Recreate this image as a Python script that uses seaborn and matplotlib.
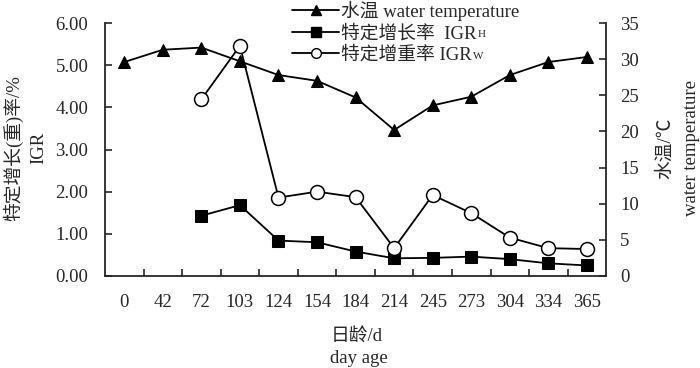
import numpy as np
import pandas as pd
import matplotlib
matplotlib.use("Agg")
import matplotlib.pyplot as plt
from matplotlib.lines import Line2D
import seaborn as sns

days = ["0", "42", "72", "103", "124", "154", "184", "214", "245", "273", "304", "334", "365"]
water_temp = [29.6, 31.3, 31.6, 29.7, 27.8, 27.0, 24.7, 20.2, 23.6, 24.8, 27.8, 29.6, 30.3]
igr_h = [None, None, 1.43, 1.68, 0.84, 0.80, 0.58, 0.42, 0.43, 0.46, 0.40, 0.30, 0.25]
igr_w = [None, None, 4.19, 5.46, 1.86, 2.00, 1.87, 0.66, 1.92, 1.49, 0.91, 0.66, 0.64]
left_ticks = [0, 1, 2, 3, 4, 5, 6]
right_ticks = [0, 5, 10, 15, 20, 25, 30, 35]
legend_labels = ["水温 water temperature", "特定增长率  IGR", "特定增重率 IGR"]
legend_subs = [None, "H", "W"]

sns.set_style("ticks")
plt.rcParams["font.family"] = ["Liberation Serif", "Noto Sans CJK SC", "DejaVu Sans"]
fs = 13.5

df = pd.DataFrame({"pos": np.arange(len(days)), "day": days,
                   "temp": water_temp,
                   "igr_h": pd.to_numeric(pd.Series(igr_h)),
                   "igr_w": pd.to_numeric(pd.Series(igr_w))})

fig = plt.figure(figsize=(7, 3.68), dpi=100)
ax = fig.add_axes([0.15, 0.25, 0.716, 0.6875])
ax2 = ax.twinx()

lw = 1.3
sub_h = df.dropna(subset=["igr_h"])
sub_w = df.dropna(subset=["igr_w"])
sns.lineplot(data=sub_h, x="pos", y="igr_h", ax=ax, color="black", lw=lw,
             marker="s", markersize=9, markeredgecolor="black", markerfacecolor="black")
sns.lineplot(data=sub_w, x="pos", y="igr_w", ax=ax, color="black", lw=lw,
             marker="o", markersize=10, markeredgecolor="black", markerfacecolor="white",
             markeredgewidth=1.1)
sns.lineplot(data=df, x="pos", y="temp", ax=ax2, color="black", lw=lw,
             marker="^", markersize=9, markeredgecolor="black", markerfacecolor="black")

ax.set_xlim(-0.5, len(days) - 0.5)
ax.set_ylim(0, 6)
ax2.set_ylim(0, 35)
ax.set_yticks(left_ticks)
ax.set_yticklabels([f"{v:.2f}" for v in left_ticks])
ax2.set_yticks(right_ticks)
ax2.set_yticklabels([str(v) for v in right_ticks])
ax.set_xticks(df["pos"])
ax.set_xticklabels(days)
ax.set_xticks(np.arange(len(days) - 1) + 0.5, minor=True)
ax.tick_params(axis="x", which="major", length=0, pad=13, labelsize=fs)
ax.tick_params(axis="x", which="minor", direction="in", length=5, width=1.2)
ax.tick_params(axis="y", direction="in", length=5, width=1.2, pad=12, labelsize=fs)
ax2.tick_params(axis="y", direction="in", length=5, width=1.2, pad=10, labelsize=fs)
ax.set_xlabel("")
ax.set_ylabel("")
ax2.set_ylabel("")

for a in (ax, ax2):
    a.spines["top"].set_visible(False)
    for s in ("left", "right", "bottom"):
        a.spines[s].set_linewidth(1.3)
ax.spines["right"].set_visible(False)
ax2.spines["left"].set_visible(False)
ax2.spines["bottom"].set_visible(False)

handles = [
    Line2D([], [], color="black", lw=lw, marker="^", markersize=7, markerfacecolor="black"),
    Line2D([], [], color="black", lw=lw, marker="s", markersize=7, markerfacecolor="black"),
    Line2D([], [], color="black", lw=lw, marker="o", markersize=7, markerfacecolor="white"),
]
leg = fig.legend(handles, legend_labels, loc="upper left", bbox_to_anchor=(0.407, 1.019),
                 frameon=False, fontsize=fs, handlelength=2.5, handletextpad=0.1,
                 labelspacing=0.2, borderaxespad=0)

# subscripts after IGR in the legend
fig.canvas.draw()
renderer = fig.canvas.get_renderer()
inv = fig.transFigure.inverted()
for txt, sub in zip(leg.get_texts(), legend_subs):
    if sub is None:
        continue
    bb = txt.get_window_extent(renderer)
    x0, y0 = inv.transform((bb.x1 + 1, bb.y0 + 3))
    fig.text(x0, y0, sub, fontsize=8, ha="left", va="bottom")

fig.text(0.018, 0.598, "特定增长(重)率/%", rotation=90, ha="center", va="center", fontsize=fs)
fig.text(0.055, 0.598, "IGR", rotation=90, ha="center", va="center", fontsize=fs)
fig.text(0.951, 0.598, "水温/℃", rotation=90, ha="center", va="center", fontsize=fs)
fig.text(0.988, 0.598, "water temperature", rotation=90, ha="center", va="center", fontsize=fs)
fig.text(0.509, 0.084, "日龄/d", ha="center", va="center", fontsize=fs)
fig.text(0.513, 0.027, "day age", ha="center", va="center", fontsize=fs)

fig.savefig("out.png", dpi=100)
